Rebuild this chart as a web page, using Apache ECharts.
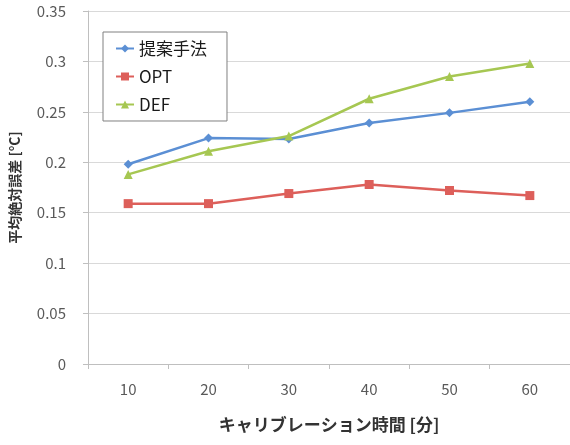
<!DOCTYPE html>
<html>
<head>
<meta charset="utf-8">
<script src="https://cdn.jsdelivr.net/npm/echarts@6/dist/echarts.min.js"></script>
<style>
html,body{margin:0;padding:0;background:#fff;}
#main{width:570px;height:445px;}
</style>
</head>
<body>
<div id="main"></div>
<script>
var categories = ['10', '20', '30', '40', '50', '60'];
var proposed = [0.198, 0.224, 0.223, 0.239, 0.249, 0.260];
var opt = [0.159, 0.159, 0.169, 0.178, 0.172, 0.167];
var def = [0.188, 0.211, 0.226, 0.263, 0.285, 0.298];
var yTicks = [0, 0.35, 0.05];

var font = '"Noto Sans CJK JP", "Noto Sans", sans-serif';

var init = function(){
	var myChart = echarts.init(document.getElementById('main'));
	var option = {
		backgroundColor: '#fff',
		animation: false,
		textStyle: { fontFamily: font },
		grid: { left: 86, right: 0, top: 11, bottom: 81 },
		legend: {
			orient: 'vertical',
			left: 103,
			top: 32,
			padding: [8, 20, 8, 12],
			itemGap: 11,
			itemWidth: 18,
			itemHeight: 10,
			borderColor: '#808080',
			borderWidth: 1,
			backgroundColor: '#fff',
			textStyle: { fontSize: 17, color: '#1a1a1a', fontFamily: font },
			data: ['提案手法', 'OPT', 'DEF']
		},
		xAxis: {
			type: 'category',
			data: categories,
			boundaryGap: true,
			name: 'キャリブレーション時間 [分]',
			nameLocation: 'middle',
			nameGap: 52,
			nameTextStyle: { fontSize: 17, fontWeight: 'bold', color: '#333', fontFamily: font },
			axisLine: { lineStyle: { color: '#bfbfbf', width: 1 } },
			axisTick: { show: true, length: 5, lineStyle: { color: '#bfbfbf' } },
			axisLabel: { fontSize: 15, color: '#595959', margin: 18 },
			splitLine: { show: false }
		},
		yAxis: {
			type: 'value',
			min: yTicks[0],
			max: yTicks[1],
			interval: yTicks[2],
			name: '平均絶対誤差 [°C]',
			nameLocation: 'middle',
			nameGap: 66,
			nameTextStyle: { fontSize: 14, fontWeight: 'bold', color: '#333', fontFamily: font },
			axisLine: { show: true, lineStyle: { color: '#bfbfbf', width: 1 } },
			axisTick: { show: true, length: 5, lineStyle: { color: '#bfbfbf' } },
			axisLabel: { fontSize: 15, color: '#595959', margin: 22 },
			splitLine: { show: true, lineStyle: { color: '#d9d9d9', width: 1 } }
		},
		series: [
			{
				name: '提案手法',
				type: 'line',
				data: proposed,
				symbol: 'diamond',
				symbolSize: 9,
				lineStyle: { color: '#5b8fd4', width: 2.5 },
				itemStyle: { color: '#5b8fd4' }
			},
			{
				name: 'OPT',
				type: 'line',
				data: opt,
				symbol: 'rect',
				symbolSize: 9,
				lineStyle: { color: '#dd5f5a', width: 2.5 },
				itemStyle: { color: '#dd5f5a' }
			},
			{
				name: 'DEF',
				type: 'line',
				data: def,
				symbol: 'triangle',
				symbolSize: 9,
				lineStyle: { color: '#a6c752', width: 2.5 },
				itemStyle: { color: '#a6c752' }
			}
		]
	};
	myChart.setOption(option);
};

init();
</script>
</body>
</html>
